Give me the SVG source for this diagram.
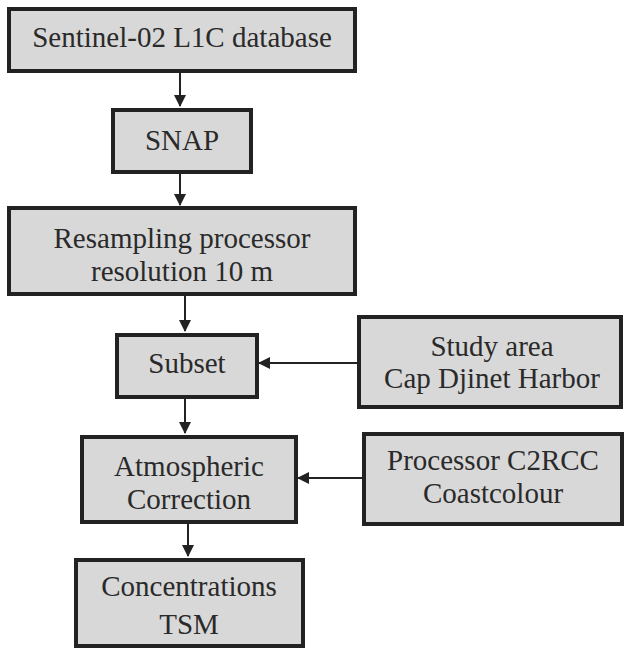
<svg xmlns="http://www.w3.org/2000/svg" width="624" height="649" viewBox="0 0 624 649">
<style>
.box{fill:#d8d8d8;stroke:#222;stroke-width:4}
.t{font-family:'Liberation Serif','Times New Roman',serif;font-size:29px;fill:#2a2a2a;text-anchor:middle}
.c{stroke:#222;stroke-width:2;fill:none;marker-end:url(#ah)}
</style>
<defs>
<marker id="ah" markerWidth="12" markerHeight="12" refX="11" refY="6" orient="auto" markerUnits="userSpaceOnUse">
<path d="M0,0 L12,6 L0,12 Z" fill="#222"/>
</marker>
</defs>
<rect width="624" height="649" fill="#fff"/>
<g id="connectors">
<line class="c" x1="180" y1="73" x2="180" y2="106"/>
<line class="c" x1="180" y1="174" x2="180" y2="205"/>
<line class="c" x1="185" y1="296" x2="185" y2="331"/>
<line class="c" x1="357" y1="363" x2="259" y2="363"/>
<line class="c" x1="185" y1="399" x2="185" y2="433"/>
<line class="c" x1="362" y1="478" x2="298" y2="478"/>
<line class="c" x1="188" y1="524" x2="188" y2="556"/>
</g>
<g id="n1"><rect class="box" x="9" y="9" width="346" height="62"/><text class="t" x="182" y="47">Sentinel-02 L1C database</text></g>
<g id="n2"><rect class="box" x="113" y="110" width="138" height="62"/><text class="t" x="182" y="150">SNAP</text></g>
<g id="n3"><rect class="box" x="9" y="208" width="346" height="86"/><text class="t" x="182" y="248">Resampling processor</text><text class="t" x="182" y="281">resolution 10 m</text></g>
<g id="n4"><rect class="box" x="117" y="335" width="140" height="62"/><text class="t" x="187" y="373">Subset</text></g>
<g id="n5"><rect class="box" x="359" y="317" width="262" height="90"/><text class="t" x="492" y="356">Study area</text><text class="t" x="492" y="388">Cap Djinet Harbor</text></g>
<g id="n6"><rect class="box" x="364" y="434" width="258" height="90"/><text class="t" x="493" y="470">Processor C2RCC</text><text class="t" x="493" y="503">Coastcolour</text></g>
<g id="n7"><rect class="box" x="82" y="437" width="214" height="85"/><text class="t" x="189" y="476">Atmospheric</text><text class="t" x="189" y="509">Correction</text></g>
<g id="n8"><rect class="box" x="76" y="560" width="227" height="86"/><text class="t" x="189" y="596">Concentrations</text><text class="t" x="189" y="634">TSM</text></g>
</svg>
